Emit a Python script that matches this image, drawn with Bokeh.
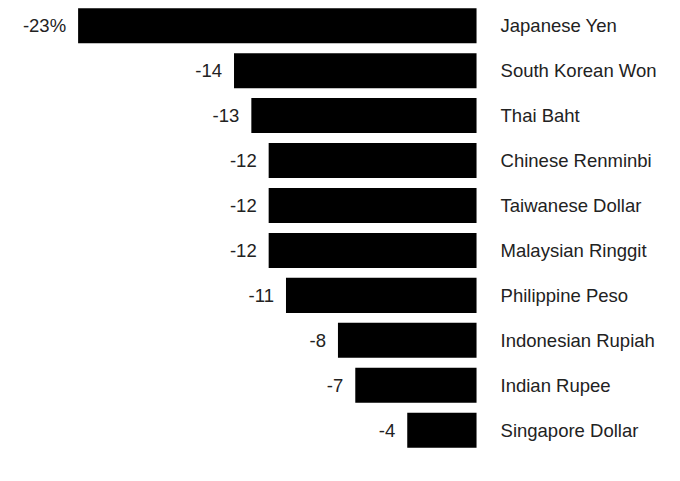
from bokeh.plotting import figure
from bokeh.models import ColumnDataSource, Range1d
from bokeh.core.properties import value
from bokeh.embed import file_html
from bokeh.resources import INLINE

currencies = ["Japanese Yen", "South Korean Won", "Thai Baht", "Chinese Renminbi",
              "Taiwanese Dollar", "Malaysian Ringgit", "Philippine Peso",
              "Indonesian Rupiah", "Indian Rupee", "Singapore Dollar"]
changes = [-23, -14, -13, -12, -12, -12, -11, -8, -7, -4]
value_labels = ["-23%", "-14", "-13", "-12", "-12", "-12", "-11", "-8", "-7", "-4"]

rows = list(range(len(currencies)))
src = ColumnDataSource(dict(y=rows, v=changes, zero=[0] * len(rows),
                            cur=currencies, lab=value_labels))

p = figure(width=664, height=465, output_backend="svg", toolbar_location=None,
           x_range=Range1d(-27.48, 10.85), y_range=Range1d(9.786, -0.561),
           min_border=0)
p.axis.visible = False
p.grid.visible = False
p.outline_line_color = None
p.background_fill_color = "white"

p.hbar(y="y", left="v", right="zero", height=0.78, source=src,
       fill_color="black", line_color=None)

FONT = value("Liberation Sans")
p.text(x="v", y="y", text="lab", source=src, x_offset=-12,
       text_align="right", text_baseline="middle", text_font=FONT,
       text_font_size="18.5px", text_color="#222222")
p.text(x="zero", y="y", text="cur", source=src, x_offset=24,
       text_align="left", text_baseline="middle", text_font=FONT,
       text_font_size="18.5px", text_color="#222222")

open("out.html", "w").write(file_html(p, INLINE))
